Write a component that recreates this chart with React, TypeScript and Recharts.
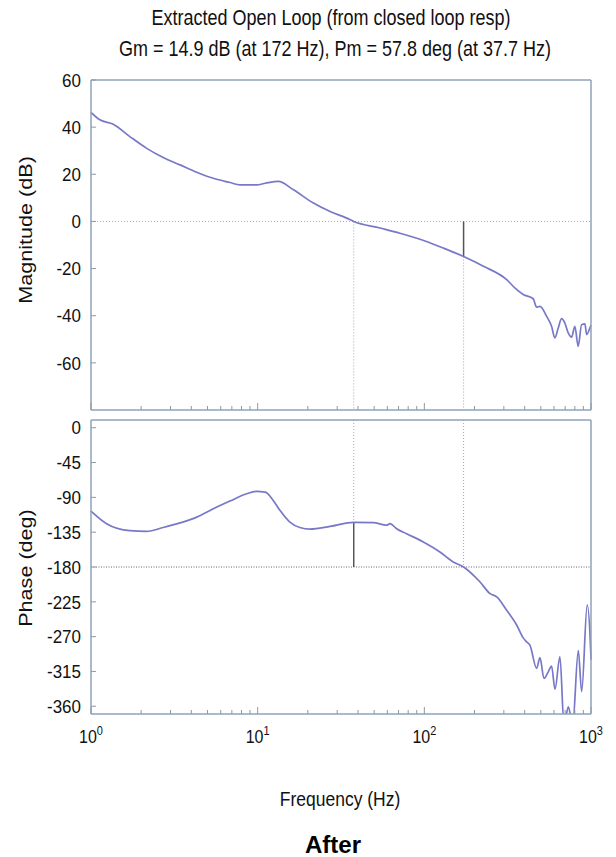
import { LineChart, Line, XAxis, YAxis, ReferenceLine } from 'recharts'

// frequency grid + values
const magFreq = [1.0, 1.13, 1.36, 1.71, 2.16, 2.71, 3.42, 4.31, 5.42, 6.82, 7.83, 9.86, 11.1, 13.3, 16.4, 21.6, 27.2, 34.2, 37.7, 54.2, 71.4, 100, 130, 172, 226, 312, 349, 392, 450, 472, 494, 542, 580, 607, 636, 666, 697, 730, 765, 800, 838, 878, 920, 941, 985, 1000]
const magDb = [46.3, 43.1, 41.2, 36, 31, 27.1, 24, 20.9, 18.3, 16.5, 15.5, 15.5, 16.2, 17, 13.4, 7.8, 4.2, 1.4, 0, -2.8, -5, -8.2, -11.3, -14.9, -19, -24.7, -28.2, -31, -32.8, -36.4, -36, -40.3, -44.5, -49.4, -45.2, -41.2, -43.1, -47.3, -49.1, -44.5, -53, -43.8, -43.5, -48, -45.2, -44]

const phaseFreq = [1.0, 1.24, 1.71, 2.16, 2.71, 3.42, 4.31, 5.42, 6.82, 8.59, 9.86, 11.1, 12.4, 13.6, 15.6, 17.9, 20.6, 27.2, 37.7, 49.4, 59.4, 62.2, 68.2, 78.3, 98.6, 124, 149, 172, 216, 248, 272, 312, 358, 392, 411, 430, 472, 494, 522, 554, 580, 608, 651, 689, 731, 776, 839, 879, 949, 995, 1000]
const phaseDeg = [-107.7, -124, -133, -134, -129, -123, -115.5, -104.7, -94.8, -85.3, -82.3, -83.2, -94, -106.8, -122, -129, -131, -127.5, -122.2, -122.7, -126, -124, -130.5, -137, -147.7, -160.6, -173.5, -180, -199.4, -214.4, -218.7, -235.9, -255, -271.6, -276.8, -281, -311, -297, -324, -315.6, -308, -338, -296, -385, -360.6, -385, -288, -341, -229, -287.5, -300]

const xTicks = [1, 2, 3, 4, 5, 6, 7, 8, 9, 10, 20, 30, 40, 50, 60, 70, 80, 90, 100, 200, 300, 400, 500, 600, 700, 800, 900, 1000]
const decades = [1, 10, 100, 1000]
const magTicks = [60, 40, 20, 0, -20, -40, -60]
const phaseTicks = [0, -45, -90, -135, -180, -225, -270, -315, -360]

// margins
const gmDb = 14.9
const gmFreq = 172
const pmDeg = 57.8
const pmFreq = 37.7

const magDomain = [-80, 60]
const phaseDomain = [-370, 10]

const magData = magFreq.map((f, i) => ({ f, v: magDb[i] }))
const phaseData = phaseFreq.map((f, i) => ({ f, v: phaseDeg[i] }))

const frame = '#8fa2b6'
const tickColor = '#8d99a6'
const lineColor = '#7878c8'
const font = 'Liberation Sans, Arial, sans-serif'

const xTick = (side: 'top' | 'bottom', labels: boolean) => (props: any) => {
  const { x, y, payload } = props
  const major = decades.includes(payload.value)
  const len = major ? 7 : 4
  const dir = side === 'bottom' ? -1 : 1
  const exp = Math.round(Math.log10(payload.value))
  return (
    <g>
      <line x1={x} y1={y} x2={x} y2={y + dir * len} stroke={tickColor} strokeWidth={1} />
      {labels && major && (
        <text transform={`translate(${x},${y + 29}) scale(1,1.12)`} textAnchor="middle" fontSize={16} fontFamily={font} fill="#111">
          <tspan>10</tspan>
          <tspan dy={-7} fontSize={11}>{exp}</tspan>
        </text>
      )}
    </g>
  )
}

const yTick = (side: 'left' | 'right') => (props: any) => {
  const { x, y, payload } = props
  const dir = side === 'left' ? 1 : -1
  return (
    <g>
      <line x1={x} y1={y} x2={x + dir * 5} y2={y} stroke={tickColor} strokeWidth={1} />
      {side === 'left' && (
        <text transform={`translate(${x - 10},${y}) scale(1,1.12)`} y={6} textAnchor="end" fontSize={17} fontFamily={font} fill="#111">
          {payload.value}
        </text>
      )}
    </g>
  )
}

const axisLine = { stroke: frame, strokeWidth: 1.5 }

// axis widths/heights of 1: recharts skips drawing an axis sized 0
export default function App() {
  return (
    <div style={{ position: 'absolute', left: 0, top: 0, width: 616, height: 857, background: '#fff' }}>
      <svg width={616} height={857} style={{ position: 'absolute', left: 0, top: 0 }}>
        <g fontFamily={font} fill="#111">
          <text transform="translate(331,25) scale(1,1.2)" textAnchor="middle" fontSize={18}>
            Extracted Open Loop (from closed loop resp)
          </text>
          <text transform="translate(335,56) scale(1,1.2)" textAnchor="middle" fontSize={18}>
            Gm = 14.9 dB (at 172 Hz), Pm = 57.8 deg (at 37.7 Hz)
          </text>
          <text transform="translate(32,230) rotate(-90) scale(1.2,1)" textAnchor="middle" fontSize={18}>
            Magnitude (dB)
          </text>
          <text transform="translate(32,568) rotate(-90) scale(1.2,1)" textAnchor="middle" fontSize={18}>
            Phase (deg)
          </text>
          <text transform="translate(340,806) scale(1,1.2)" textAnchor="middle" fontSize={17.5}>
            Frequency (Hz)
          </text>
          <text x={333} y={853} textAnchor="middle" fontSize={24} fontWeight="bold" fill="#000">
            After
          </text>
        </g>
      </svg>

      <div style={{ position: 'absolute', left: 0, top: 0 }}>
        <LineChart width={616} height={420} data={magData} margin={{ top: 79, right: 24, bottom: 9, left: 90 }}>
          <XAxis dataKey="f" type="number" scale="log" domain={[1, 1000]} ticks={xTicks} interval={0} tick={xTick('bottom', false)} tickLine={false} tickSize={0} tickMargin={0} height={1} axisLine={axisLine} />
          <XAxis xAxisId="top" orientation="top" type="number" scale="log" domain={[1, 1000]} ticks={xTicks} interval={0} tick={xTick('top', false)} tickLine={false} tickSize={0} tickMargin={0} height={1} axisLine={axisLine} />
          <YAxis type="number" domain={magDomain} ticks={magTicks} interval={0} tick={yTick('left')} tickLine={false} tickSize={0} tickMargin={0} width={1} axisLine={axisLine} allowDataOverflow />
          <YAxis yAxisId="right" orientation="right" type="number" domain={magDomain} ticks={magTicks} interval={0} tick={yTick('right')} tickLine={false} tickSize={0} tickMargin={0} width={1} axisLine={axisLine} />
          <ReferenceLine y={0} stroke="#a8a8a8" strokeDasharray="1 2" />
          <ReferenceLine segment={[{ x: pmFreq, y: 0 }, { x: pmFreq, y: magDomain[0] }]} stroke="#a8a8a8" strokeDasharray="1 2" />
          <ReferenceLine segment={[{ x: gmFreq, y: -gmDb }, { x: gmFreq, y: magDomain[0] }]} stroke="#a8a8a8" strokeDasharray="1 2" />
          <ReferenceLine segment={[{ x: gmFreq, y: 0 }, { x: gmFreq, y: -gmDb }]} stroke="#555" strokeWidth={1.5} />
          <Line type="monotone" dataKey="v" stroke={lineColor} strokeWidth={1.7} dot={false} isAnimationActive={false} />
        </LineChart>
      </div>

      <div style={{ position: 'absolute', left: 0, top: 410 }}>
        <LineChart width={616} height={360} data={phaseData} margin={{ top: 9, right: 24, bottom: 55, left: 90 }}>
          <XAxis dataKey="f" type="number" scale="log" domain={[1, 1000]} ticks={xTicks} interval={0} tick={xTick('bottom', true)} tickLine={false} tickSize={0} tickMargin={0} height={1} axisLine={axisLine} />
          <XAxis xAxisId="top" orientation="top" type="number" scale="log" domain={[1, 1000]} ticks={xTicks} interval={0} tick={xTick('top', false)} tickLine={false} tickSize={0} tickMargin={0} height={1} axisLine={axisLine} />
          <YAxis type="number" domain={phaseDomain} ticks={phaseTicks} interval={0} tick={yTick('left')} tickLine={false} tickSize={0} tickMargin={0} width={1} axisLine={axisLine} allowDataOverflow />
          <YAxis yAxisId="right" orientation="right" type="number" domain={phaseDomain} ticks={phaseTicks} interval={0} tick={yTick('right')} tickLine={false} tickSize={0} tickMargin={0} width={1} axisLine={axisLine} />
          <ReferenceLine y={-180} stroke="#b4b4b4" strokeWidth={2} strokeDasharray="1 1.5" />
          <ReferenceLine segment={[{ x: pmFreq, y: phaseDomain[1] }, { x: pmFreq, y: -180 + pmDeg }]} stroke="#a8a8a8" strokeDasharray="1 2" />
          <ReferenceLine segment={[{ x: gmFreq, y: phaseDomain[1] }, { x: gmFreq, y: -180 }]} stroke="#a8a8a8" strokeDasharray="1 2" />
          <ReferenceLine segment={[{ x: pmFreq, y: -180 + pmDeg }, { x: pmFreq, y: -180 }]} stroke="#555" strokeWidth={1.5} />
          <Line type="monotone" dataKey="v" stroke={lineColor} strokeWidth={1.7} dot={false} isAnimationActive={false} />
        </LineChart>
      </div>
    </div>
  )
}
